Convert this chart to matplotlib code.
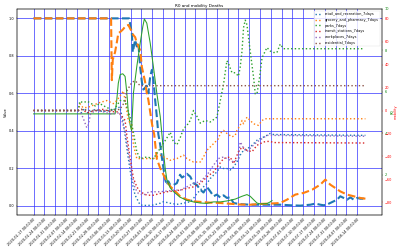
import matplotlib
matplotlib.use("Agg")
import matplotlib.pyplot as plt
import pandas as pd

START = "2020-01-17"
TICK_END = "2020-08-14"

# ---- main axis series (Value), x as day offsets from START ----
blue_days = [0, 62, 63.8, 64.4, 65.9, 67, 68, 69.2, 70.3, 71.3, 73.5, 74.5, 75.7, 76.8, 77.8, 78.9, 80,
             81, 82.2, 83.3, 84.3, 85.4, 86.5, 87.5, 88.7, 90.8, 93, 95.1, 96.3, 97.3, 99.5, 101.7, 103.8,
             106, 108.2, 110.3, 112.5, 114.7, 116.8, 119, 121.2, 123.3, 125.5, 127.6, 129.8, 134.1, 140.6,
             151.5, 160.1, 166.6, 173.1, 179.7, 182.9, 186.1, 188.3, 190.5, 194.8, 197, 199.1, 201.3,
             203.5, 205.6, 207.8, 210, 212.1, 214.3, 215.4]
blue_vals = [1.0, 1.0, 0.92, 0.82, 0.885, 0.85, 0.87, 0.74, 0.66, 0.62, 0.64, 0.60, 0.69, 0.725, 0.67, 0.565, 0.475,
             0.38, 0.325, 0.255, 0.20, 0.14, 0.11, 0.13, 0.11, 0.11, 0.12, 0.165, 0.15, 0.155, 0.17, 0.155, 0.12,
             0.11, 0.085, 0.07, 0.10, 0.076, 0.05, 0.059, 0.043, 0.055, 0.041, 0.045, 0.014, 0.008, 0.005,
             0.005, 0.005, 0.002, 0.0, 0.005, 0.011, 0.005, 0.002, 0.006, 0.023, 0.032, 0.05, 0.041,
             0.032, 0.044, 0.032, 0.041, 0.037, 0.037, 0.023]

orange_days = [0, 50.3, 50.8, 51.4, 52.9, 54, 55, 56.6, 57.9, 59.4, 61.5, 62.7, 63.8, 64.8, 65.9, 67, 69.2,
               70.3, 72.4, 73.5, 74.5, 75.7, 77, 78.3, 79, 80, 82.2, 84.3, 86.5, 88.7, 90.8, 93, 95.1, 97.3,
               99.5, 101.7, 103.8, 108.2, 114.7, 121.2, 127.6, 134.1, 140.6, 147.1, 153.6, 160.1, 164.5,
               169.9, 175.3, 180.8, 186.1, 189.4, 192.6, 195.9, 199.1, 203.5, 207.8, 212.1, 215.4]
orange_vals = [1.0, 1.0, 0.67, 0.78, 0.82, 0.87, 0.92, 0.93, 0.94, 0.955, 0.965, 0.945, 0.93, 0.91, 0.9, 0.87, 0.83,
               0.74, 0.66, 0.6, 0.565, 0.50, 0.43, 0.38, 0.325, 0.25, 0.2, 0.165, 0.13, 0.103, 0.085, 0.068, 0.05, 0.041,
               0.032, 0.028, 0.023, 0.02, 0.016, 0.014, 0.01, 0.006, 0.005, 0.009, 0.011, 0.014, 0.032,
               0.059, 0.068, 0.085, 0.112, 0.139, 0.112, 0.094, 0.076, 0.059, 0.05, 0.041, 0.037]

green_days = [0, 52.9, 54, 55, 56.2, 57.9, 59.4, 60.1, 60.9, 61.5, 62.7, 63.6, 64.8, 67, 69.2, 70.9, 71.9,
              73.5, 75.7, 77.8, 80, 82.2, 83.3, 84.3, 85.4, 86.5, 88.7, 90.8, 95.1, 99.5, 103.8, 108.2,
              112.5, 116.8, 121.2, 125.5, 130.9, 135.3, 138.5, 140.6, 142.8, 145, 147.1, 151.5, 153.6, 154.8]
green_vals = [0.49, 0.49, 0.565, 0.654, 0.70, 0.704, 0.69, 0.636, 0.565, 0.494, 0.43, 0.40, 0.6, 0.743, 0.868, 0.956, 0.997,
              0.974, 0.868, 0.74, 0.6, 0.476, 0.38, 0.29, 0.2, 0.14, 0.095, 0.075, 0.045, 0.028, 0.02, 0.014,
              0.012, 0.02, 0.02, 0.025, 0.035, 0.05, 0.059, 0.05, 0.032, 0.014, 0.009, 0.011, 0.02, 0.027]

# ---- mobility series (right red axis) ----
retail_days = [0, 29, 31, 33, 35, 40, 45, 50, 54, 56, 58, 59.4, 61.5, 63.8, 65.9, 69.2, 73.5, 77.8, 82.2, 84.3,
               88.7, 93, 97.3, 101.7, 103.8, 106, 108.2, 110.3, 112.5, 114.7, 116.8, 119, 121.2, 123.3, 125.5,
               127.6, 129.8, 132, 134.1, 136.3, 138.5, 140.6, 142.8, 145, 147.1, 149.3, 151.5, 153.6, 155.8, 215.4]
retail_vals = [0, 0, -2, 2, -2, 1, -1, 0, 2, 3, -8.7, -21.7, -42, -62, -74, -82.6, -83, -82.6, -81, -79.7,
               -81, -82, -81, -79.7, -76.8, -72.5, -69.6, -66.7, -63.8, -59.4, -56.5, -53.6, -49.3, -50.7, -50.7,
               -52, -49.3, -45, -39, -34.8, -33.3, -31.9, -29, -26, -24.6, -23.2, -21.7, -20, -21, -21.7]

grocery_days = [0, 29, 30, 32, 35, 43, 47.5, 51.8, 54, 56.2, 58.3, 59.4, 60.5, 61.5, 63.8, 64.8, 67, 69.2,
                73.5, 77.8, 82.2, 86.5, 88.7, 93, 97.3, 99.5, 103.8, 108.2, 110.3, 112.5, 116.8, 120, 121.2,
                123.3, 125.5, 128.8, 130.9, 132, 134.1, 135.3, 136.3, 138.5, 140.6, 142.8, 146, 148.3, 150.4, 215.4]
grocery_vals = [0, 0, 6, 2.6, 2.6, 7, 8.7, 6, 8.7, 13, 17, 8.7, 0, -8.7, -13, -30, -42, -42,
                -42, -42, -39, -42, -43.5, -42, -39, -42, -45, -45, -40.6, -34.8, -29, -24.6, -20,
                -17.4, -20, -23, -21.7, -17.4, -13, -8.7, -11.6, -5.8, -8.7, -11.6, -13, -8.7, -7.2, -7.2]

parks_days = [0, 29, 30, 32, 35, 40, 43, 47, 51.8, 56.2, 58, 59.4, 62.7, 64.8, 67, 69.2, 73.5, 77.8, 82.2,
              86.5, 88.7, 90.8, 93, 95.1, 97.3, 99.5, 101.7, 103.8, 106, 108.2, 111.4, 114.7, 119, 121.2,
              123.3, 125.5, 126.5, 128.8, 130.9, 133, 134.1, 135.3, 136.3, 137.4, 138.5, 140.6, 142.8, 143.9,
              145, 146.7, 148.3, 150.4, 151.5, 153.6, 155.8, 158, 160.1, 162.3, 214.3]
parks_vals = [0, 0, 8, 7, 8, 4, 6, 3, 0, 8.7, 9, 8, -6, -19, -36, -42, -40.6, -42, -33,
              -24, -19, -27.5, -30, -24, -16, -13, -8.7, 0, -5, -11, -8.7, -10, -5.8, 8.7,
              23, 43.5, 41, 33, 33, 30, 37.7, 52, 72.5, 79, 75, 52, 29, 14.5,
              14.5, 29, 46, 52, 55, 52, 50.7, 50.7, 58, 54, 54]

transit_days = [0, 29, 31, 35, 40, 45, 50, 54, 56.2, 59.4, 60.5, 62.7, 64.8, 67, 69.2, 73.5, 77.8, 82.2,
                86.5, 90.8, 95.1, 99.5, 103.8, 108.2, 112.5, 116.8, 120, 123.3, 127.6, 129.8, 133, 135.3,
                138.5, 141.8, 145, 149.3, 151.5, 153.6, 155.8, 215.4]
transit_vals = [0, 0, 1, -2, 0, 1, -1, -1, -3, -8.7, -21.7, -42, -59, -66.7, -71, -74, -74, -72.5,
                -71, -70.4, -69.6, -68, -66.7, -63.8, -58, -53.6, -47.8, -42, -40.6, -46.4, -36, -32,
                -34.8, -36, -30.4, -27.5, -27, -27, -28, -28.4]

workplaces_days = [0, 29, 31, 32.3, 33.4, 34.5, 35.4, 37, 40, 45, 49.7, 56, 59.4, 61.5, 63.8, 65.9, 68,
                   71.3, 75, 82.2, 86.5, 90.8, 95.1, 99.5, 103.8, 108.2, 112.5, 116.8, 120, 123.3, 125.5,
                   129.8, 133, 134.1, 135.3, 136.3, 138.5, 140.6, 145, 148.3, 151.5, 153.6, 215.4]
workplaces_vals = [0, 0, -3, -7, -11, -15, -13, -3, 0, -1, -3, -2, -19, -36, -56.5, -68, -72.5,
                   -74, -71, -71, -70.4, -69.6, -69.6, -66.7, -63.8, -62, -56.5, -47.8, -42, -40.6, -42,
                   -45, -42, -27.5, -30, -33, -36, -33, -27.5, -24.6, -21.7, -21.7, -22.5]

residential_days = [0, 29, 31, 35, 40, 50, 56, 59.4, 60.5, 63.8, 65.9, 69.2, 215.4]
residential_vals = [0, 0, 1, 0, 0, 0, 1, 8, 17, 24.6, 26, 21.7, 21.7]

mobility = [
    ("retail_and_recreation_7days", retail_days, retail_vals),
    ("grocery_and_pharmacy_7days", grocery_days, grocery_vals),
    ("parks_7days", parks_days, parks_vals),
    ("transit_stations_7days", transit_days, transit_vals),
    ("workplaces_7days", workplaces_days, workplaces_vals),
    ("residential_7days", residential_days, residential_vals),
]

start = pd.Timestamp(START)


def to_dates(days):
    return [start + pd.Timedelta(days=d) for d in days]


fig = plt.figure(figsize=(16, 10), dpi=25)
ax = fig.add_subplot(111)
fig.subplots_adjust(left=0.0425, right=0.955, top=0.964, bottom=0.14)

ax.plot(to_dates(blue_days), blue_vals, "--", color="C0", lw=6)
ax.plot(to_dates(orange_days), orange_vals, "--", color="C1", lw=6)
ax.plot(to_dates(green_days), green_vals, "-", color="C2", lw=3)
ax.set_ylabel("Value")
ax.set_title("R0 and mobility Deaths")
ax.grid(True, color="#3333ff", lw=2.5, alpha=0.8)

ticks = pd.date_range(START, TICK_END, freq="7D")
ax.set_xticks(ticks)
ax.set_xticklabels([str(t) for t in ticks], rotation=45, ha="right", rotation_mode="anchor")

ax2 = ax.twinx()
ax2.set_ylim(0.07, 10)
ax2.set_ylabel("R0", color="green")
ax2.tick_params(axis="y", colors="green")

ax3 = ax.twinx()
for name, d, v in mobility:
    ax3.plot(to_dates(d), v, ":", lw=4, label=name)
ax3.set_ylim(-91.3, 88.7)
ax3.set_ylabel("mobility", color="red")
ax3.tick_params(axis="y", colors="red")
ax3.legend(loc="upper right")

fig.savefig("out.png", dpi=25)
